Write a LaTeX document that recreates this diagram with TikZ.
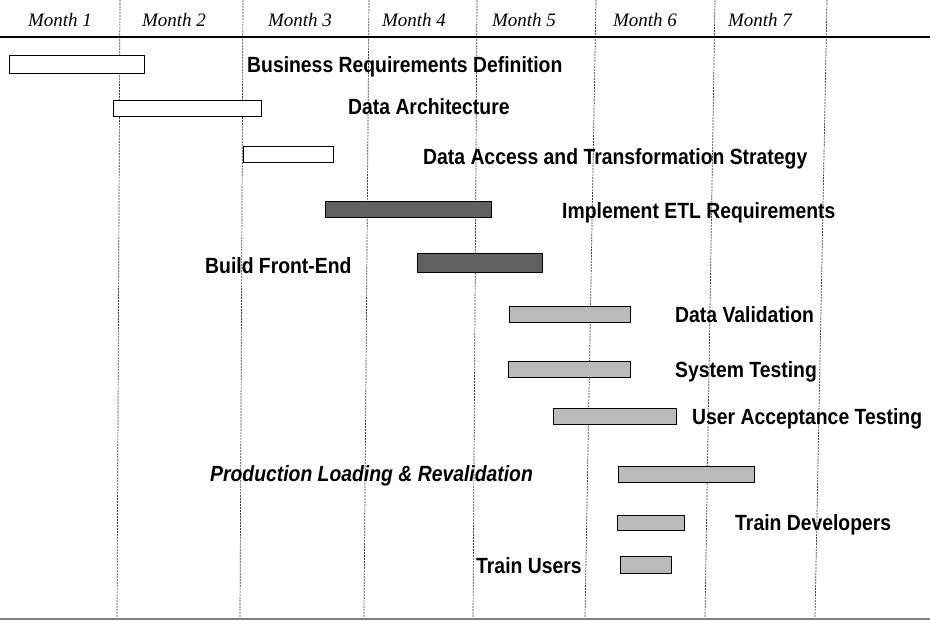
\documentclass[tikz,border=0pt]{standalone}
\usepackage{fontspec}
\setmainfont{Liberation Sans}
\newfontfamily\labfont{Liberation Sans}[FakeStretch=0.88]
\newfontfamily\monfont{Liberation Serif}
\begin{document}
\begin{tikzpicture}[x=1pt,y=-1pt,
  grid/.style={black!75,line width=0.7pt,dash pattern=on 2pt off 1pt},
  rule/.style={black,line width=1.8pt},
  month/.style={font=\monfont\itshape\fontsize{19}{21}\selectfont,inner sep=0pt,anchor=base},
  task/.style={font=\labfont\bfseries\fontsize{22}{24}\selectfont,inner sep=0pt,anchor=base west},
  taskit/.style={task,font=\labfont\bfseries\itshape\fontsize{22}{24}\selectfont},
  barbox/.style={draw=black,line width=1.3pt,inner sep=0pt,anchor=north west},
  plain/.style={barbox,fill=white},
  dark/.style={barbox,fill=black!62},
  light/.style={barbox,fill=black!27}]
\useasboundingbox (0,0) rectangle (930,621);
% grid lines
\foreach \i/\xt/\xb in {1/120/117,2/243/240,3/369/364,4/477/473,5/596/585,6/715/705,7/827/815}{
  \coordinate (gt\i) at (\xt,0);
  \coordinate (gb\i) at (\xb,617);
  \draw[grid] (gt\i) -- (gb\i);
}
% header rule and bottom rule
\coordinate (hl) at (0,37); \coordinate (hr) at (930,37);
\draw[rule] (hl) -- (hr);
\coordinate (bl) at (0,619); \coordinate (br) at (930,619);
\draw[black!50,line width=1.6pt] (bl) -- (br);
% months
\node[month] (m1) at (60,26) {Month 1};
\node[month] (m2) at (174,26) {Month 2};
\node[month] (m3) at (300,26) {Month 3};
\node[month] (m4) at (414,26) {Month 4};
\node[month] (m5) at (524,26) {Month 5};
\node[month] (m6) at (645,26) {Month 6};
\node[month] (m7) at (760,26) {Month 7};
% bars
\node[plain,minimum width=135,minimum height=18] (b1) at (9,55) {};
\node[plain,minimum width=148,minimum height=16] (b2) at (113,100) {};
\node[plain,minimum width=90,minimum height=16] (b3) at (243,146) {};
\node[dark,minimum width=166,minimum height=16] (b4) at (325,201) {};
\node[dark,minimum width=125,minimum height=19] (b5) at (417,253) {};
\node[light,minimum width=121,minimum height=16] (b6) at (509,306) {};
\node[light,minimum width=122,minimum height=16] (b7) at (508,361) {};
\node[light,minimum width=123,minimum height=16] (b8) at (553,408) {};
\node[light,minimum width=136,minimum height=16] (b9) at (618,466) {};
\node[light,minimum width=67,minimum height=15] (b10) at (617,515) {};
\node[light,minimum width=51,minimum height=17] (b11) at (620,556) {};
% labels
\node[task] (t1) at (247,72) {Business Requirements Definition};
\node[task] (t2) at (348,114) {Data Architecture};
\node[task] (t3) at (423,164) {Data Access and Transformation Strategy};
\node[task] (t4) at (562,218) {Implement ETL Requirements};
\node[task] (t5) at (205,273) {Build Front-End};
\node[task] (t6) at (675,322) {Data Validation};
\node[task] (t7) at (675,377) {System Testing};
\node[task] (t8) at (692,424) {User Acceptance Testing};
\node[taskit] (t9) at (210,481) {Production Loading \& Revalidation};
\node[task] (t10) at (735,530) {Train Developers};
\node[task] (t11) at (476,573) {Train Users};
\end{tikzpicture}
\end{document}
